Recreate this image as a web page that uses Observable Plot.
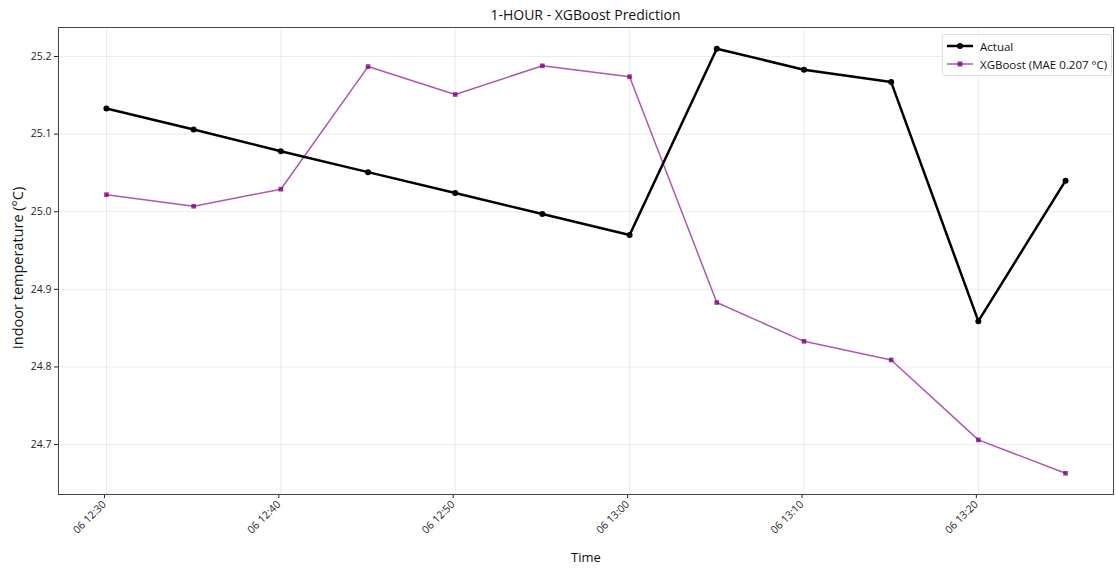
<!DOCTYPE html>
<html>
<head>
<meta charset="utf-8">
<script src="https://cdn.jsdelivr.net/npm/d3@7"></script>
<script src="https://cdn.jsdelivr.net/npm/@observablehq/plot@0.6"></script>
<style>
  body { margin: 0; background: #fff; font-family: "Open Sans", sans-serif; }
  #wrap { position: relative; width: 1116px; height: 572px; }
  #title { position: absolute; left: 58px; width: 1055px; top: 5px; text-align: center; font-size: 14px; color: #111; }
  #chart { position: absolute; left: 0; top: 20px; }
  #legend { position: absolute; left: 942px; top: 34px; width: 168px; height: 40px; border: 1px solid #ddd; border-radius: 3px; background: rgba(255,255,255,0.85); font-size: 11.5px; color: #111; }
  .row { position: absolute; left: 4px; height: 16px; display: flex; align-items: center; }
  .row span { margin-left: 7px; white-space: nowrap; }
</style>
</head>
<body>
<div id="wrap">
  <div id="title">1-HOUR - XGBoost Prediction</div>
  <div id="chart"></div>
  <div id="legend">
    <div class="row" style="top:3px"><svg width="26" height="10"><line x1="0" y1="5" x2="26" y2="5" stroke="#000" stroke-width="2.5"/><circle cx="13" cy="5" r="3" fill="#000"/></svg><span>Actual</span></div>
    <div class="row" style="top:21px"><svg width="26" height="10"><line x1="0" y1="5" x2="26" y2="5" stroke="purple" stroke-opacity="0.65" stroke-width="1.5"/><rect x="10.5" y="2.5" width="5" height="5" fill="purple" fill-opacity="0.8"/></svg><span>XGBoost (MAE 0.207 °C)</span></div>
  </div>
</div>
<script>
// Timestamps (day 06), 5-minute steps
const timeLabels = ["12:30","12:35","12:40","12:45","12:50","12:55","13:00","13:05","13:10","13:15","13:20","13:25"];
// Measured indoor temperature (°C)
const actual = [25.133, 25.106, 25.078, 25.051, 25.024, 24.997, 24.970, 25.210, 25.183, 25.167, 24.859, 25.040];
// XGBoost 1-hour-ahead prediction (°C)
const xgboost = [25.022, 25.007, 25.029, 25.187, 25.151, 25.188, 25.174, 24.883, 24.833, 24.809, 24.706, 24.663];
// Axis ticks
const xTickLabels = ["12:30","12:40","12:50","13:00","13:10","13:20"];
const yTicks = [24.7, 24.8, 24.9, 25.0, 25.1, 25.2];

const toDate = (hm) => {
  const [h, m] = hm.split(":").map(Number);
  return new Date(Date.UTC(2024, 0, 6, h, m));
};
const times = timeLabels.map(toDate);
const actualData = times.map((t, i) => ({t, v: actual[i]}));
const xgbData = times.map((t, i) => ({t, v: xgboost[i]}));

// 5% padding on each side of the time and value ranges
const span = times[times.length - 1] - times[0];
const xDomain = [new Date(+times[0] - span * 0.05), new Date(+times[times.length - 1] + span * 0.05)];
const allV = actual.concat(xgboost);
const yMin = d3.min(allV), yMax = d3.max(allV);
const yPad = (yMax - yMin) * 0.05;
const fmt = d3.utcFormat("%d %H:%M");

const plot = Plot.plot({
  width: 1116,
  height: 552,
  marginTop: 7,
  marginBottom: 78,
  marginLeft: 58,
  marginRight: 3,
  style: {fontFamily: "Open Sans, sans-serif", fontSize: "10.5px", color: "#222", background: "transparent"},
  x: {type: "utc", domain: xDomain},
  y: {domain: [yMin - yPad, yMax + yPad]},
  marks: [
    Plot.gridX(xTickLabels.map(toDate), {stroke: "#000", strokeOpacity: 0.08}),
    Plot.gridY(yTicks, {stroke: "#000", strokeOpacity: 0.08}),
    Plot.axisY(yTicks, {tickFormat: d3.format(".1f"), tickSize: 4, tickPadding: 3, label: null}),
    Plot.axisX(xTickLabels.map(toDate), {tickFormat: fmt, tickRotate: -45, tickSize: 4, tickPadding: 4, dx: -2, label: null}),
    Plot.frame({stroke: "#444", strokeWidth: 1}),
    Plot.line(xgbData, {x: "t", y: "v", stroke: "purple", strokeOpacity: 0.65, strokeWidth: 1.5}),
    Plot.dot(xgbData, {x: "t", y: "v", symbol: "square", r: 2.6, fill: "purple", fillOpacity: 0.8}),
    Plot.line(actualData, {x: "t", y: "v", stroke: "#000", strokeWidth: 2.5}),
    Plot.dot(actualData, {x: "t", y: "v", r: 3, fill: "#000"}),
    Plot.text(["Time"], {frameAnchor: "bottom", dy: 67, fontSize: 13, fill: "#111"}),
    Plot.text(["Indoor temperature (°C)"], {frameAnchor: "left", textAnchor: "middle", dx: -40, dy: 7, rotate: -90, fontSize: 14.5, fill: "#111"})
  ]
});
document.getElementById("chart").appendChild(plot);
</script>
</body>
</html>
